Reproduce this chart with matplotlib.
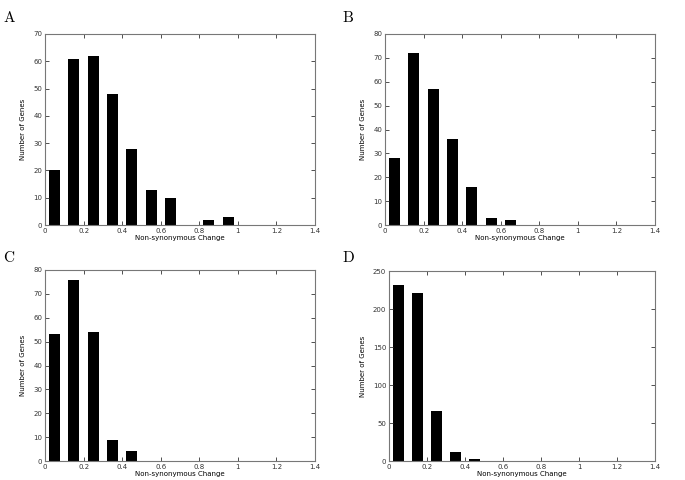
import matplotlib
matplotlib.use("Agg")
import matplotlib.pyplot as plt
from matplotlib.ticker import FuncFormatter, MultipleLocator

bins = [0.05, 0.15, 0.25, 0.35, 0.45, 0.55, 0.65, 0.75, 0.85, 0.95]
counts_A = [20, 61, 62, 48, 28, 13, 10, 0, 2, 3]
counts_B = [28, 72, 57, 36, 16, 3, 2]
counts_C = [53, 76, 54, 9, 4]
counts_D = [232, 221, 66, 12, 2]
panel_labels = ["A", "B", "C", "D"]
ymax = [70, 80, 80, 250]
ystep = [10, 10, 10, 50]
xlabel = "Non-synonymous Change"
ylabel = "Number of Genes"

W, H = 685, 480
fig = plt.figure(figsize=(W / 100, H / 100), dpi=100)

# pixel boxes: left, top, right, bottom
boxes = [(45, 34, 315, 225), (385, 34, 655, 225), (45, 270, 315, 461), (389, 271, 655, 461)]
letter_pos = [(3, 18), (342, 18), (3, 258), (342, 258)]
data = [counts_A, counts_B, counts_C, counts_D]

fmt = FuncFormatter(lambda v, p: ("%g" % round(v, 2)))

for i in range(4):
    l, t, r, b = boxes[i]
    ax = fig.add_axes([l / W, 1 - b / H, (r - l) / W, (b - t) / H])
    vals = data[i]
    ax.bar(bins[:len(vals)], vals, width=0.057, color="black", edgecolor="black", linewidth=0)
    ax.set_xlim(0, 1.4)
    ax.set_ylim(0, ymax[i])
    ax.xaxis.set_major_locator(MultipleLocator(0.2))
    ax.yaxis.set_major_locator(MultipleLocator(ystep[i]))
    ax.xaxis.set_major_formatter(fmt)
    ax.tick_params(direction="in", length=3, width=0.6, labelsize=5, colors="#333333",
                   top=True, right=True, pad=2)
    for s in ax.spines.values():
        s.set_color("#777777")
        s.set_linewidth(0.8)
    ax.set_xlabel(xlabel, fontsize=5, labelpad=1)
    ax.set_ylabel(ylabel, fontsize=5, labelpad=5)
    lx, ly = letter_pos[i]
    fig.text(lx / W, 1 - ly / H, panel_labels[i], fontsize=11, family=["cmr10", "DejaVu Serif"],
             va="center", ha="left")

fig.savefig("out.png", dpi=100)
